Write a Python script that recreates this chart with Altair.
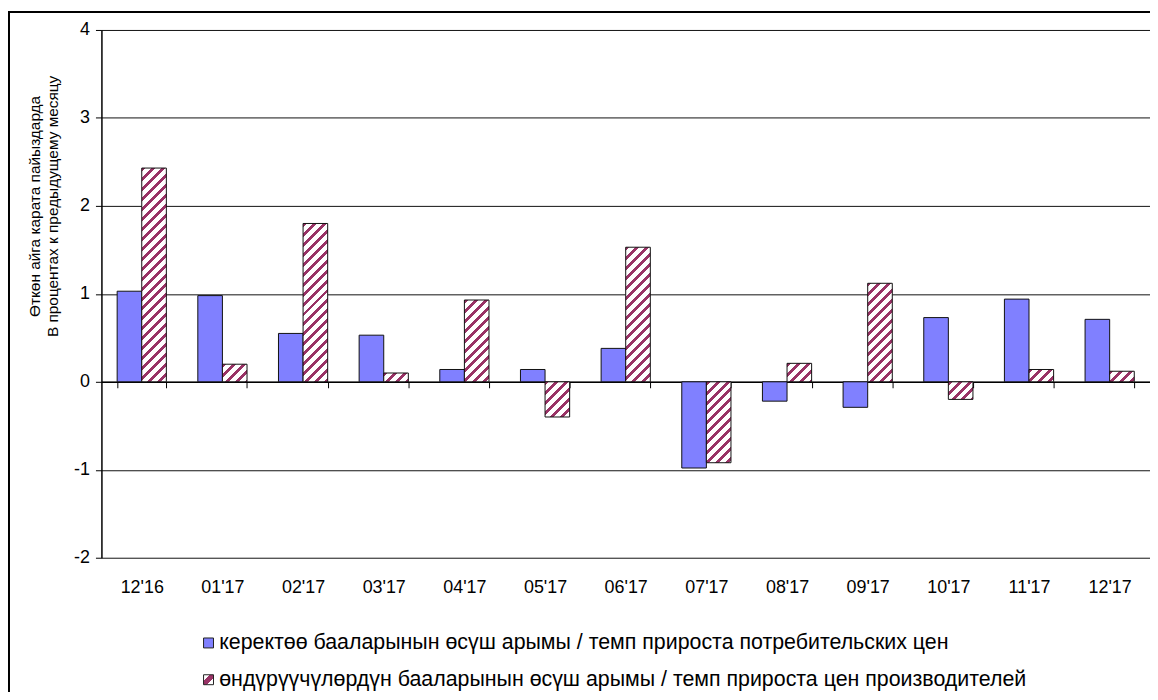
import altair as alt
import pandas as pd

# ---------------- data ----------------
months = ["12'16", "01'17", "02'17", "03'17", "04'17", "05'17", "06'17",
          "07'17", "08'17", "09'17", "10'17", "11'17", "12'17"]
cpi = [1.03, 0.98, 0.55, 0.53, 0.14, 0.14, 0.38, -0.98, -0.22, -0.29, 0.73, 0.94, 0.71]
ppi = [2.43, 0.20, 1.80, 0.10, 0.93, -0.40, 1.53, -0.92, 0.21, 1.12, -0.20, 0.14, 0.12]
series_names = [
    "керектөө бааларынын өсүш арымы / темп прироста потребительских цен",
    "өндүрүүчүлөрдүн бааларынын өсүш арымы / темп прироста цен производителей",
]
y_title = ["Өткөн айга карата пайыздарда", "В процентах к предыдущему месяцу"]
y_ticks = [-2, -1, 0, 1, 2, 3, 4]

rows = []
for m, a, b in zip(months, cpi, ppi):
    rows.append({"month": m, "series": series_names[0], "value": a})
    rows.append({"month": m, "series": series_names[1], "value": b})
df = pd.DataFrame(rows)

# ---------------- layout / style ----------------
W, H = 1055, 531
PAD_IN, PAD_OUT = 0.39, 0.195
BLUE = "#8080FF"
CRIMSON = "#993366"
FONT = "Liberation Sans"
Y_DOMAIN = [-2, 4]
unit = H / (Y_DOMAIN[1] - Y_DOMAIN[0])
step = W / len(months)
bar_w = step * (1 - PAD_IN) / 2
PERIOD = 10.0
FRAC = 0.4


def hatch_gradient(w, h):
    """45-degree '/' stripes expressed as a linear gradient in bbox units."""
    L = w + h
    stops = []
    k = 0
    while k * PERIOD < L:
        a = k * PERIOD
        b = a + FRAC * PERIOD
        c = a + PERIOD
        for lo, hi, col in ((a, b, CRIMSON), (b, c, "white")):
            if lo >= L:
                continue
            stops.append({"offset": round(lo / L, 5), "color": col})
            stops.append({"offset": round(min(hi, L) / L, 5), "color": col})
        k += 1
    kk = (w + h) / (w * w + h * h)
    return {"gradient": "linear", "x1": 0, "y1": 0,
            "x2": round(kk * w, 6), "y2": round(kk * h, 6), "stops": stops}


legend_hatch_expr = (
    "{gradient: 'linear', x1: 0, y1: 0, x2: 1, y2: 1, stops: ["
    "{offset: 0, color: 'white'}, {offset: 0.33, color: 'white'}, "
    f"{{offset: 0.33, color: '{CRIMSON}'}}, {{offset: 0.67, color: '{CRIMSON}'}}, "
    "{offset: 0.67, color: 'white'}, {offset: 1, color: 'white'}]}"
)

x_scale = alt.Scale(paddingInner=PAD_IN, paddingOuter=PAD_OUT)
y_scale = alt.Scale(domain=Y_DOMAIN, nice=False, zero=False)
off_scale = alt.Scale(domain=series_names, paddingInner=0, paddingOuter=0)

x_axis = alt.Axis(
    title=None, labelAngle=0, labelFontSize=18, labelColor="black", labelFont=FONT,
    labelPadding=192, tickBand="extent", tickSize=6, tickColor="black", tickWidth=1,
    domainColor="black", domainWidth=1.5, offset=-(H - unit * Y_DOMAIN[1]), grid=False,
)
y_axis = alt.Axis(
    values=y_ticks, labelExpr="'' + datum.value", title=y_title, titleFontSize=15.5,
    titleFontWeight="normal", titleFont=FONT, titleColor="black", titleAngle=-90,
    titleX=-67, titleY=177, titleAlign="center", titleBaseline="middle", titleLineHeight=18,
    labelFontSize=18, labelColor="black", labelFont=FONT, labelPadding=6,
    tickSize=6, tickColor="black", domainColor="black", domainWidth=1.5,
    grid=True, gridColor="#111111", gridWidth=1,
)

enc_x = alt.X("month:N", sort=months, scale=x_scale, axis=x_axis)
enc_off = alt.XOffset("series:N", scale=off_scale)
enc_y = alt.Y("value:Q", scale=y_scale, axis=y_axis)

base = alt.Chart(df)

blue = base.transform_filter(
    alt.FieldEqualPredicate(field="series", equal=series_names[0])
).mark_bar(stroke="#111111", strokeWidth=1).encode(
    x=enc_x, xOffset=enc_off, y=enc_y,
    fill=alt.Fill(
        "series:N",
        scale=alt.Scale(domain=series_names, range=[BLUE, alt.ExprRef(expr=legend_hatch_expr)]),
        legend=alt.Legend(
            title=None, orient="none", legendX=97, legendY=606, direction="vertical",
            symbolType="square", symbolSize=100, symbolStrokeColor="#222222",
            symbolStrokeWidth=1, symbolOpacity=1, labelFontSize=21.5, labelFont=FONT,
            labelColor="black", labelLimit=2000, labelOffset=0, rowPadding=14, padding=0,
        ),
    ),
)

hatch_layers = []
for m, v in zip(months, ppi):
    grad = hatch_gradient(bar_w, abs(v) * unit)
    layer = base.transform_filter(
        alt.FieldEqualPredicate(field="series", equal=series_names[1])
    ).transform_filter(
        alt.FieldEqualPredicate(field="month", equal=m)
    ).mark_bar(fill=grad, stroke="#111111", strokeWidth=1).encode(
        x=enc_x, xOffset=enc_off, y=enc_y,
    )
    hatch_layers.append(layer)

frame = alt.Chart(pd.DataFrame({"f": [0]})).mark_rect(
    fill=None, stroke="black", strokeWidth=2
).encode(
    x=alt.value(-93), x2=alt.value(W + 40), y=alt.value(-18), y2=alt.value(H + 200)
)

chart = alt.layer(blue, *hatch_layers, frame).properties(
    width=W, height=H,
    padding={"left": 94, "top": 20, "right": 0, "bottom": 133},
    autosize=alt.AutoSizeParams(type="none"),
    background="white",
).configure(font=FONT, view=alt.ViewConfig(stroke=None))

chart.save("out.html", embed_options={"renderer": "svg", "actions": False})
